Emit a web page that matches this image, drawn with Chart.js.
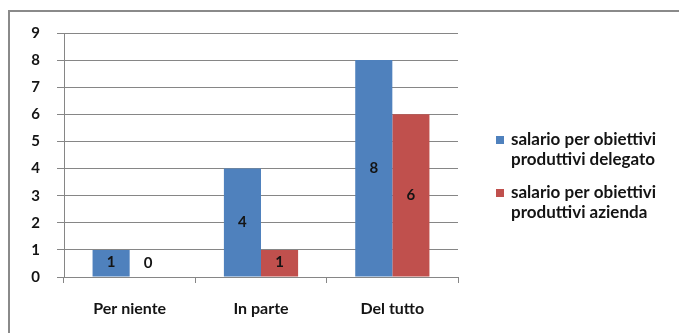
<!DOCTYPE html>
<html>
<head>
<meta charset="utf-8">
<script src="https://cdn.jsdelivr.net/npm/chart.js@4.4.1/dist/chart.umd.min.js"></script>
<style>
  body { margin: 0; background: #fff; }
  #cornice { position: absolute; left: 8px; top: 10px; width: 700px; height: 400px; border: 2px solid #8a8a8a; }
  #contenitore { position: absolute; left: 0; top: 0; width: 679px; height: 333px; }
</style>
</head>
<body>
<div id="cornice"></div>
<div id="contenitore"><canvas id="grafico"></canvas></div>
<script>
// dati
const categorie = ['Per niente', 'In parte', 'Del tutto']
const serieNomi = [
  ['salario per obiettivi', 'produttivi delegato'],
  ['salario per obiettivi', 'produttivi azienda']
]
const valoriDelegato = [1, 4, 8]
const valoriAzienda = [0, 1, 6]
const tickY = [0, 1, 2, 3, 4, 5, 6, 7, 8, 9]

const colori = ['#4F81BD', '#C0504D']
const font = 'Lato, Calibri, sans-serif'
const testo = '#141414'

// etichette dentro le barre
const etichette = {
  id: 'etichette',
  afterDatasetsDraw(chart) {
    const ctx = chart.ctx
    ctx.save()
    ctx.font = 'bold 15px ' + font
    ctx.fillStyle = testo
    ctx.textAlign = 'center'
    ctx.textBaseline = 'middle'
    chart.data.datasets.forEach((ds, i) => {
      chart.getDatasetMeta(i).data.forEach((bar, j) => {
        let y = (bar.y + bar.base) / 2
        if (bar.base - y < 14) y = bar.base - 14
        ctx.fillText(ds.data[j], bar.x, y)
      })
    })
    ctx.restore()
  }
}

// legenda a destra su due righe
const legenda = {
  id: 'legenda',
  afterDraw(chart) {
    const ctx = chart.ctx
    ctx.save()
    ctx.font = 'bold 17px ' + font
    ctx.textBaseline = 'middle'
    const inizi = [140, 193]
    chart.data.datasets.forEach((ds, i) => {
      const y0 = inizi[i]
      ctx.fillStyle = colori[i]
      ctx.fillRect(496, y0 - 4, 8, 8)
      ctx.fillStyle = testo
      serieNomi[i].forEach((riga, k) => ctx.fillText(riga, 511, y0 + k * 20))
    })
    ctx.restore()
  }
}

const data = {
  labels: categorie,
  datasets: [
    { label: serieNomi[0].join(' '), data: valoriDelegato, backgroundColor: colori[0] },
    { label: serieNomi[1].join(' '), data: valoriAzienda, backgroundColor: colori[1] }
  ]
}

const config = {
  type: 'bar',
  data: data,
  options: {
    responsive: true,
    maintainAspectRatio: false,
    animation: false,
    layout: { padding: { top: 33, right: 221, bottom: 0, left: 0 } },
    datasets: { bar: { barPercentage: 1, categoryPercentage: 0.565 } },
    plugins: { legend: { display: false }, tooltip: { enabled: false } },
    scales: {
      x: {
        grid: { drawOnChartArea: false, drawTicks: true, tickLength: 6, offset: true, color: '#868686' },
        border: { color: '#868686' },
        ticks: { padding: 16, color: testo, font: { family: font, size: 16, weight: 'bold' } },
        afterFit: s => { s.height = 56 }
      },
      y: {
        min: 0,
        max: 9,
        afterBuildTicks: s => { s.ticks = tickY.map(v => ({ value: v })) },
        grid: { color: '#868686', tickLength: 7 },
        border: { color: '#868686' },
        ticks: { padding: 17, color: testo, font: { family: font, size: 15, weight: 'bold' } },
        afterFit: s => { s.width = 64 }
      }
    }
  },
  plugins: [etichette, legenda]
}

var grafico = new Chart(document.getElementById('grafico'), config)
</script>
</body>
</html>
